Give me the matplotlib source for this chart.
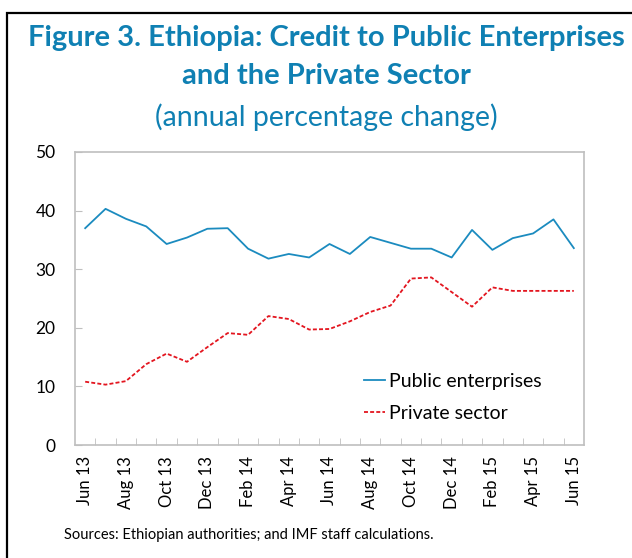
#!/usr/bin/env python3
"""Ethiopia: credit to public enterprises and the private sector."""

import matplotlib

matplotlib.use("Agg")
import matplotlib.pyplot as plt
from matplotlib.patches import Rectangle
import numpy as np

plt.rcParams["font.family"] = ["Lato", "DejaVu Sans"]

MONTHS = [
    "Jun 13", "Jul 13", "Aug 13", "Sep 13", "Oct 13", "Nov 13", "Dec 13",
    "Jan 14", "Feb 14", "Mar 14", "Apr 14", "May 14", "Jun 14", "Jul 14",
    "Aug 14", "Sep 14", "Oct 14", "Nov 14", "Dec 14", "Jan 15", "Feb 15",
    "Mar 15", "Apr 15", "May 15", "Jun 15",
]
PUBLIC = [
    37.0, 40.3, 38.6, 37.3, 34.3, 35.4, 36.9, 37.0, 33.5, 31.8, 32.6, 32.0,
    34.3, 32.6, 35.5, 34.5, 33.5, 33.5, 32.0, 36.7, 33.3, 35.3, 36.1, 38.5,
    33.6,
]
PRIVATE = [
    10.8, 10.3, 10.9, 13.8, 15.6, 14.2, 16.7, 19.1, 18.8, 22.0, 21.5, 19.7,
    19.8, 21.1, 22.7, 23.8, 28.4, 28.6, 26.1, 23.6, 26.9, 26.3, 26.3, 26.3,
    26.3,
]

BLUE = "#1b8bbf"
TITLE_BLUE = "#0f80b3"
RED = "#e3151f"
GREY = "#bfbfbf"


def main() -> int:
    fig = plt.figure(figsize=(6.32, 5.58), dpi=100)
    fig.patches.append(
        Rectangle((7 / 632, -0.1), 1.2, 1 - 13 / 558 + 0.1, transform=fig.transFigure,
                  fill=False, edgecolor="black", linewidth=1.6)
    )

    fig.text(0.517, 1 - 38 / 558, "Figure 3. Ethiopia: Credit to Public Enterprises",
             ha="center", va="center", fontsize=21, fontweight="bold", color=TITLE_BLUE)
    fig.text(0.517, 1 - 76 / 558, "and the Private Sector",
             ha="center", va="center", fontsize=21, fontweight="bold", color=TITLE_BLUE)
    fig.text(0.517, 1 - 117 / 558, "(annual percentage change)",
             ha="center", va="center", fontsize=20.5, color=TITLE_BLUE)

    ax = fig.add_axes([75 / 632, 1 - 445 / 558, 509 / 632, 293 / 558])
    x = np.arange(len(MONTHS))
    ax.plot(x, PUBLIC, color=BLUE, linewidth=1.3, label="Public enterprises")
    ax.plot(x, PRIVATE, color=RED, linewidth=1.3, linestyle=(0, (2.2, 1.2)),
            label="Private sector")

    ax.set_xlim(-0.5, len(MONTHS) - 0.5)
    ax.set_ylim(0, 50)
    ax.set_yticks(range(0, 51, 10))
    ax.tick_params(axis="y", direction="in", length=5, color=GREY, labelsize=12.5, pad=14)
    ax.set_xticks(x[::2])
    ax.set_xticklabels(MONTHS[::2], rotation=90)
    ax.tick_params(axis="x", which="major", length=0, labelsize=12, pad=8)
    ax.set_xticks(np.arange(0.5, len(MONTHS) - 1, 1.0), minor=True)
    ax.tick_params(axis="x", which="minor", direction="in", length=5, color=GREY)
    for spine in ax.spines.values():
        spine.set_color(GREY)
        spine.set_linewidth(1.2)

    ax.legend(loc="upper left", bbox_to_anchor=((364 - 75) / 509, (445 - 373) / 293),
              frameon=False, fontsize=14, handlelength=1.1, handletextpad=0.2,
              labelspacing=0.78, borderpad=0, borderaxespad=0)

    fig.text(64 / 632, 1 - 535 / 558,
             "Sources: Ethiopian authorities; and IMF staff calculations.",
             ha="left", va="center", fontsize=10.5, color="black")

    fig.savefig("out.png", dpi=100)
    plt.close(fig)
    return 0


if __name__ == "__main__":
    raise SystemExit(main())
